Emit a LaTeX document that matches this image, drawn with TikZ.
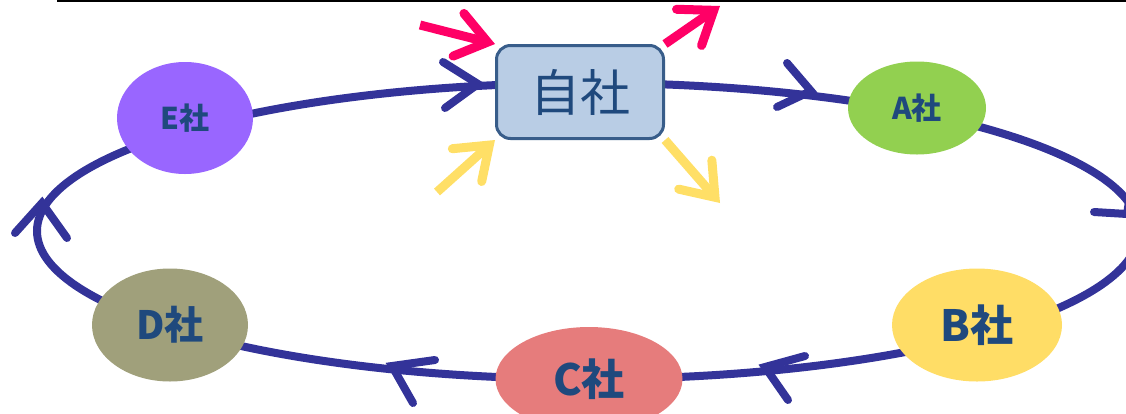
\documentclass[tikz,border=0pt]{standalone}
\usepackage{fontspec}
\newfontfamily\jp{Noto Sans CJK JP}
\usetikzlibrary{shapes.geometric,arrows.meta}
\definecolor{ringc}{HTML}{333399}
\definecolor{txt}{HTML}{1F497D}
\definecolor{boxfill}{HTML}{B9CDE5}
\definecolor{boxline}{HTML}{385D8A}
\definecolor{cA}{HTML}{92D050}
\definecolor{cB}{HTML}{FFDD66}
\definecolor{cC}{HTML}{E67C7C}
\definecolor{cD}{HTML}{A0A07B}
\definecolor{cE}{HTML}{9966FF}
\definecolor{pinkc}{HTML}{FF0066}
\definecolor{yelc}{HTML}{FFDF66}
\begin{document}
\begin{tikzpicture}[x=1pt,y=-1pt,
  ring/.style={draw=ringc, line width=8pt},
  chev/.style={draw=ringc, line width=8pt, line cap=round, line join=miter},
  topline/.style={draw=black, line width=2pt},
  selfbox/.style={rectangle, rounded corners=14pt, draw=boxline, line width=3pt,
    fill=boxfill, minimum width=167pt, minimum height=93pt, inner sep=0pt,
    text=txt, font=\jp\fontsize{50}{50}\selectfont},
  firm/.style={ellipse, inner sep=0pt, text=txt},
  lbsmall/.style={font=\jp\bfseries\fontsize{30}{30}\selectfont},
  lbbig/.style={font=\jp\bfseries\fontsize{43}{43}\selectfont},
  flowarr/.style={line width=9pt,
    -{Straight Barb[length=30pt,width=44pt,line cap=round,line join=miter]}},
]
\useasboundingbox (0,0) rectangle (1126,413);
\clip (0,0) rectangle (1126,413);

% top rule
\coordinate (tl1) at (57,1);
\coordinate (tl2) at (1126,1);
\draw[topline] (tl1) -- (tl2);

% ring
\coordinate (ringc) at (588,231);
\draw[ring] (ringc) ellipse [x radius=551, y radius=148];

% chevrons on the ring
\draw[chev] (443,62) -- (478,84) -- (445,108);
\draw[chev] (787,63) -- (811,91) -- (777,107);
\draw[chev] (1094,212) -- (1127,214) -- (1133,176);
\draw[chev] (805,356) -- (765,367) -- (788,400);
\draw[chev] (435,360) -- (392,366) -- (413,403);
\draw[chev] (15,233) -- (42,203) -- (67,238);

% nodes
\node[selfbox] (self) at (580,92) {自社};
\node[firm, fill=cA, minimum width=138pt, minimum height=93pt, lbsmall] (A) at (917,108) {A社};
\node[firm, fill=cE, minimum width=136pt, minimum height=112pt, lbsmall] (E) at (185,118) {E社};
\node[firm, fill=cD, minimum width=156pt, minimum height=113pt, font=\jp\bfseries\fontsize{39}{39}\selectfont] (D) at (170,325) {D社};
\node[firm, fill=cB, minimum width=170pt, minimum height=113pt, lbbig] (B) at (977,325) {B社};
\node[firm, fill=cC, minimum width=187pt, minimum height=104pt, lbbig] (C) at (589,379) {C社};

% flows around own company
\coordinate (pin) at (420,25);
\coordinate (pout) at (720,6);
\coordinate (yin) at (437,192);
\coordinate (yout) at (720,203);
\draw[flowarr, draw=pinkc] (pin) -- (self.north west);
\draw[flowarr, draw=pinkc] (self.north east) -- (pout);
\draw[flowarr, draw=yelc] (yin) -- (self.south west);
\draw[flowarr, draw=yelc] (self.south east) -- (yout);
\end{tikzpicture}
\end{document}
